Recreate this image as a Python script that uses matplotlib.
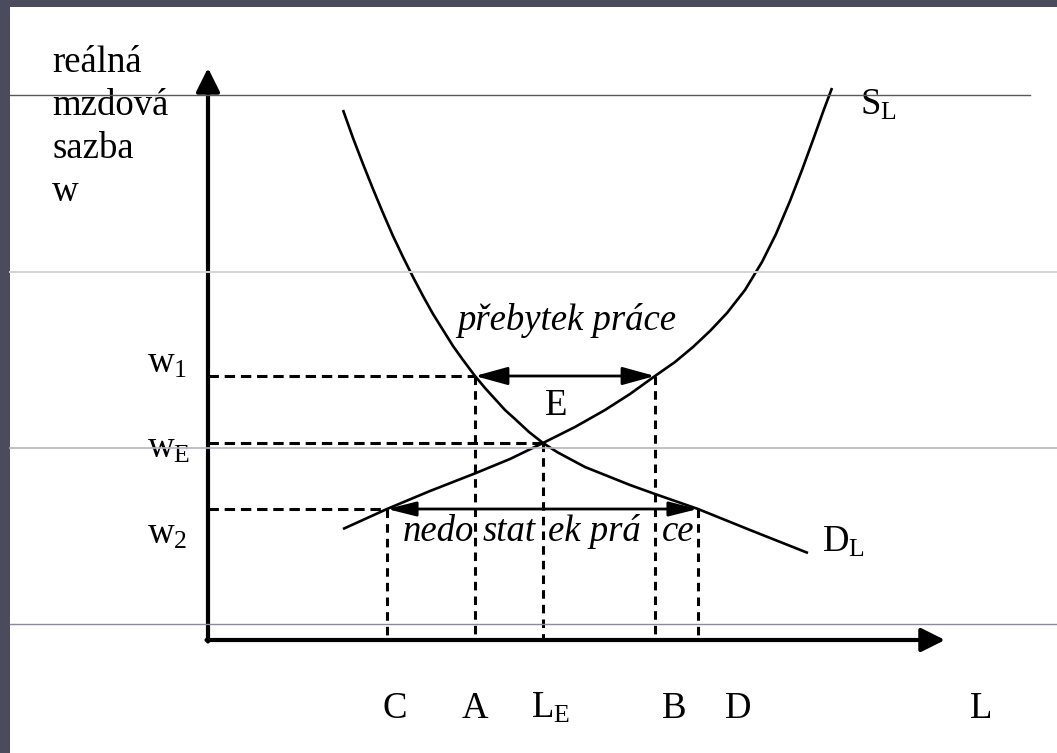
import matplotlib
matplotlib.use("Agg")
import matplotlib.pyplot as plt
from matplotlib.patches import Rectangle

plt.rcParams['font.family'] = ['Liberation Serif', 'DejaVu Serif']
plt.rcParams['mathtext.fontset'] = 'custom'
plt.rcParams['mathtext.rm'] = 'Liberation Serif'
plt.rcParams['mathtext.it'] = 'Liberation Serif:italic'

# ---- data (in picture units: x right, y down) ----
origin = (208, 640)
y_axis_tip = 68
x_axis_tip = 945

# labour supply curve S_L
S_x = [343, 387, 430, 476, 510, 543, 575, 605, 630, 655, 675, 693, 710, 727, 745, 762, 776, 790, 802, 813, 823, 832]
S_y = [529, 509, 491, 473, 459, 443, 427, 410, 394, 376, 362, 347, 331, 313, 290, 262, 234, 201, 170, 140, 112, 88]

# labour demand curve D_L
D_x = [343, 353, 363, 373, 383, 393, 403, 413, 423, 433, 443, 453, 463, 475, 485, 495, 505, 515, 529, 543, 557, 570, 585, 600, 615, 630, 655, 698, 750, 808]
D_y = [110, 138, 164, 189, 213, 236, 257, 277, 296, 314, 330, 346, 360, 376, 388, 399, 410, 419, 432, 443, 452, 459, 467, 473, 479, 485, 494, 509, 530, 553]

# wage levels and labour quantities
w_names = ['w1', 'wE', 'w2']
w_levels = [376, 443, 509]
L_names = ['C', 'A', 'LE', 'B', 'D']
L_values = [387, 475, 543, 655, 698]
# which wage level each quantity belongs to
L_level = [509, 376, 443, 376, 509]

fig = plt.figure(figsize=(10.57, 7.53), dpi=100)
ax = fig.add_axes([0, 0, 1, 1])
ax.set_xlim(0, 1057)
ax.set_ylim(753, 0)
ax.axis('off')

# background: dark slide border + white panel
ax.add_patch(Rectangle((0, 0), 1057, 753, facecolor='#4a4c5d', edgecolor='none', zorder=0))
ax.add_patch(Rectangle((10, 7), 1057, 753, facecolor='white', edgecolor='none', zorder=0.5))

ox, oy = origin
K = 'black'

# axes with arrows
ax.annotate('', xy=(ox, y_axis_tip), xytext=(ox, oy + 1.5),
            arrowprops=dict(arrowstyle='-|>,head_length=0.4,head_width=0.2', lw=3, color=K,
                            mutation_scale=36, shrinkA=0, shrinkB=0), zorder=5)
ax.annotate('', xy=(x_axis_tip, oy), xytext=(ox - 1.5, oy),
            arrowprops=dict(arrowstyle='-|>,head_length=0.4,head_width=0.2', lw=3, color=K,
                            mutation_scale=36, shrinkA=0, shrinkB=0), zorder=5)

# curves
ax.plot(S_x, S_y, color=K, lw=1.9, solid_capstyle='butt', zorder=4)
ax.plot(D_x, D_y, color=K, lw=1.9, solid_capstyle='butt', zorder=4)

dash = (0, (3.4, 1.9))
# horizontal dashed lines from the wage axis
w_ends = [475, 543, 387]
for wy, xe in zip(w_levels, w_ends):
    ax.plot([ox, xe], [wy, wy], color=K, lw=2.2, linestyle=dash, zorder=3)
# vertical dashed lines to the L axis
for lx, ly in zip(L_values, L_level):
    ax.plot([lx, lx], [ly, oy], color=K, lw=2.2, linestyle=(0, (2.8, 2.0)), zorder=3)

# double arrows: surplus (w1) and shortage (w2)
ax.annotate('', xy=(655, 376), xytext=(475, 376),
            arrowprops=dict(arrowstyle='<|-|>,head_length=0.8,head_width=0.22', lw=2, color=K,
                            mutation_scale=25, shrinkA=0, shrinkB=0), zorder=4)
ax.annotate('', xy=(698, 509), xytext=(387, 509),
            arrowprops=dict(arrowstyle='<|-|>,head_length=0.8,head_width=0.2', lw=2, color=K,
                            mutation_scale=22, shrinkA=0, shrinkB=0), zorder=4)

fs = 26.5
# y-axis title
for i, line in enumerate(['reálná', 'mzdová', 'sazba', 'w']):
    ax.text(52, 72 + 43 * i, line, fontsize=fs, ha='left', va='baseline', zorder=6)

# wage labels
w_texts = [r'$\mathrm{w_1}$', r'$\mathrm{w_E}$', r'$\mathrm{w_2}$']
w_base = [373, 458, 544]
for t, b in zip(w_texts, w_base):
    ax.text(147, b, t, fontsize=fs, ha='left', va='baseline', zorder=6)

# quantity labels
q_texts = ['C', 'A', r'$\mathrm{L_E}$', 'B', 'D', 'L']
q_x = [382, 462, 531, 662, 725, 970]
for t, x in zip(q_texts, q_x):
    ax.text(x, 718, t, fontsize=fs, ha='left', va='baseline', zorder=6)

ax.text(545, 415, 'E', fontsize=fs, ha='left', va='baseline', zorder=6)
ax.text(860, 115, r'$\mathrm{S_L}$', fontsize=fs, ha='left', va='baseline', zorder=6)
ax.text(822, 552, r'$\mathrm{D_L}$', fontsize=fs, ha='left', va='baseline', zorder=6)

ax.text(457, 330, 'přebytek práce', fontsize=fs, style='italic', ha='left', va='baseline', zorder=6)
pieces = ['nedo', 'stat', 'ek prá', 'ce']
piece_x = [403, 483, 548, 662]
for t, x in zip(pieces, piece_x):
    ax.text(x, 541, t, fontsize=fs, style='italic', ha='left', va='baseline', zorder=6)

# thin slide lines running across the picture
ax.plot([10, 1030], [95, 95], color='#55576a', lw=1.0, zorder=8)
ax.plot([10, 1057], [272, 272], color='#d4d4d8', lw=1.4, zorder=8)
ax.plot([10, 1057], [448, 448], color='#b5b5bc', lw=1.2, zorder=8)
ax.plot([10, 1057], [624, 624], color='#8a8a9c', lw=1.0, zorder=8)

fig.savefig('out.png', dpi=100)
